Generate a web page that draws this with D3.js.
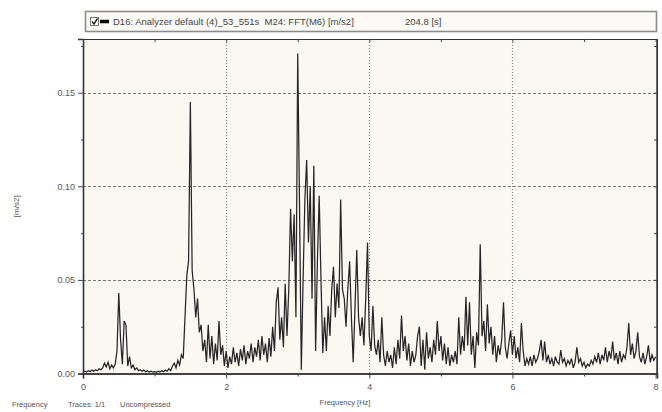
<!DOCTYPE html>
<html><head><meta charset="utf-8">
<script src="https://cdn.jsdelivr.net/npm/d3@7"></script>
<style>body{margin:0;background:#fff}svg{display:block}text{font-family:"Liberation Sans",Arial,sans-serif}</style>
</head><body>
<svg id="c" width="662" height="412"></svg>
<script>
// ---- data ----
const freqStep = 0.025; // Hz between samples
const amplitude = [
// 0.0 - 0.475
0.001,0.0012,0.0008,0.0015,0.001,0.0018,0.0012,0.002,0.0015,0.0025,0.002,0.003,0.0055,0.0035,0.006,0.0025,0.0045,0.003,0.005,0.012,
// 0.5 - 0.975
0.043,0.018,0.005,0.028,0.026,0.004,0.009,0.003,0.0045,0.002,0.003,0.0015,0.002,0.0012,0.0018,0.001,0.0015,0.0008,0.0012,0.0007,
// 1.0 - 1.475
0.001,0.0006,0.0012,0.0008,0.0015,0.001,0.0018,0.0012,0.0025,0.0015,0.004,0.0055,0.003,0.007,0.0045,0.01,0.008,0.03,0.052,0.06,
// 1.5 - 1.975
0.145,0.055,0.045,0.03,0.04,0.022,0.026,0.012,0.018,0.006,0.026,0.008,0.02,0.005,0.016,0.007,0.028,0.01,0.015,0.004,
// 2.0 - 2.475
0.012,0.003,0.009,0.005,0.014,0.006,0.011,0.004,0.013,0.007,0.015,0.005,0.012,0.008,0.016,0.006,0.014,0.009,0.018,0.007,
// 2.5 - 2.975
0.02,0.01,0.016,0.006,0.019,0.009,0.025,0.012,0.038,0.046,0.018,0.03,0.014,0.048,0.02,0.045,0.088,0.06,0.085,0.03,
// 3.0 - 3.475
0.171,0.09,0.002,0.05,0.093,0.114,0.07,0.1,0.04,0.111,0.012,0.06,0.095,0.05,0.011,0.03,0.012,0.036,0.02,0.045,
// 3.5 - 3.975
0.057,0.03,0.048,0.035,0.093,0.045,0.04,0.025,0.045,0.06,0.03,0.006,0.035,0.066,0.03,0.02,0.03,0.015,0.04,0.07,
// 4.0 - 4.475
0.02,0.012,0.036,0.015,0.01,0.018,0.006,0.03,0.01,0.004,0.012,0.006,0.01,0.003,0.014,0.005,0.018,0.008,0.031,0.012,
// 4.5 - 4.975
0.02,0.007,0.016,0.004,0.012,0.006,0.01,0.02,0.025,0.004,0.018,0.002,0.022,0.008,0.014,0.006,0.018,0.01,0.028,0.012,
// 5.0 - 5.475
0.02,0.007,0.016,0.005,0.014,0.004,0.01,0.006,0.012,0.005,0.03,0.01,0.02,0.012,0.041,0.015,0.038,0.01,0.02,0.003,
// 5.5 - 5.975
0.022,0.015,0.069,0.02,0.028,0.012,0.037,0.016,0.025,0.01,0.02,0.006,0.015,0.01,0.018,0.038,0.014,0.008,0.016,0.023,
// 6.0 - 6.475
0.01,0.02,0.008,0.014,0.006,0.027,0.012,0.004,0.008,0.005,0.009,0.004,0.01,0.006,0.008,0.012,0.018,0.007,0.017,0.006,
// 6.5 - 6.975
0.01,0.005,0.008,0.004,0.009,0.006,0.005,0.0125,0.006,0.008,0.004,0.007,0.005,0.008,0.003,0.006,0.014,0.006,0.008,0.004,
// 7.0 - 7.475
0.006,0.003,0.005,0.004,0.007,0.005,0.009,0.006,0.011,0.005,0.01,0.007,0.014,0.006,0.012,0.008,0.017,0.007,0.011,0.005,
// 7.5 - 7.975
0.012,0.006,0.01,0.008,0.014,0.027,0.01,0.016,0.008,0.012,0.022,0.009,0.006,0.011,0.005,0.009,0.015,0.006,0.01,0.007,
// 8.0
0.009
];
const xTicks = [0, 2, 4, 6, 8];
const xMinor = [1, 3, 5, 7];
const yTicks = [0, 0.05, 0.10, 0.15];
const yMinor = [0.025, 0.075, 0.125, 0.175];
const legendText = "D16: Analyzer default (4)_53_551s  M24: FFT(M6) [m/s2]";
const legendDur = "204.8 [s]";
const yLabel = "[m/s2]";
const xLabel = "Frequency [Hz]";
const footWords = ["Frequency", "Traces: 1/1", "Uncompressed"];

// ---- drawing ----
const svg = d3.select("#c");
const L = 83, R = 657, T = 39, B = 373.5;
const x = d3.scaleLinear().domain([0, 8.0196]).range([L, R]);
const y = d3.scaleLinear().domain([0, 0.1787]).range([B, T]);
const pts = amplitude.map((v, i) => [i * freqStep, v]);
const FONT = "Liberation Sans, Arial, sans-serif";

svg.append("rect").attr("x", L).attr("y", T).attr("width", R - L).attr("height", B - T)
  .attr("fill", "#fbf8f1");

// grid
svg.append("g").selectAll("line").data(yTicks.filter(d => d > 0)).join("line")
  .attr("x1", L).attr("x2", R).attr("y1", d => Math.round(y(d)) + 0.5).attr("y2", d => Math.round(y(d)) + 0.5)
  .attr("stroke", "#777").attr("stroke-width", 1.2).attr("stroke-dasharray", "3,2");
svg.append("g").selectAll("line").data(xTicks.filter(d => d > 0 && d < 8)).join("line")
  .attr("y1", T).attr("y2", B).attr("x1", d => Math.round(x(d)) + 0.5).attr("x2", d => Math.round(x(d)) + 0.5)
  .attr("stroke", "#888").attr("stroke-width", 1.1).attr("stroke-dasharray", "1,2");

// spectrum
svg.append("path").datum(pts)
  .attr("d", d3.line().x(d => x(d[0])).y(d => y(d[1])))
  .attr("fill", "none").attr("stroke", "#262626").attr("stroke-width", 1.25).attr("stroke-linejoin", "miter");

// frame
svg.append("rect").attr("x", L + 0.5).attr("y", T + 0.5).attr("width", R - L - 1).attr("height", B - T)
  .attr("fill", "none").attr("stroke", "#6a6a6a").attr("stroke-width", 1);

// axes
const yAxis = svg.append("g").attr("transform", `translate(${L},0)`)
  .call(d3.axisLeft(y).tickValues(yTicks).tickFormat(d3.format(".2f")).tickSize(5).tickPadding(3));
svg.append("g").attr("transform", `translate(${L},0)`)
  .call(d3.axisLeft(y).tickValues(yMinor.filter(d => d < 0.1787)).tickFormat("").tickSize(2));
const xAxis = svg.append("g").attr("transform", `translate(0,${B})`)
  .call(d3.axisBottom(x).tickValues(xTicks).tickFormat(d3.format("d")).tickSize(5).tickPadding(5));
svg.append("g").attr("transform", `translate(0,${B})`)
  .call(d3.axisBottom(x).tickValues(xMinor).tickFormat("").tickSize(3));
// inner ticks top & right
svg.append("g").attr("transform", `translate(0,${T})`)
  .call(d3.axisBottom(x).tickValues(xTicks.concat(xMinor)).tickFormat("").tickSize(3));
svg.append("g").attr("transform", `translate(${R},0)`)
  .call(d3.axisLeft(y).tickValues(yTicks.concat(yMinor.filter(d => d < 0.1787))).tickFormat("").tickSize(3));

svg.selectAll(".domain").attr("stroke", "#333");
svg.selectAll(".tick line").attr("stroke", "#444");
svg.selectAll(".tick text").attr("fill", "#555").style("font-size", "9px").style("font-family", FONT);
yAxis.select(".domain").attr("stroke-width", 1.6);
xAxis.select(".domain").attr("stroke-width", 1.6);

// labels
svg.append("text").attr("transform", `translate(19,${(T + B) / 2}) rotate(-90)`)
  .attr("text-anchor", "middle").attr("fill", "#555").style("font-size", "8px").text(yLabel);
svg.append("text").attr("x", 345).attr("y", 405).attr("text-anchor", "middle")
  .attr("fill", "#555").style("font-size", "7.5px").text(xLabel);
svg.append("g").selectAll("text").data(footWords).join("text")
  .attr("x", (d, i) => [12, 68, 120][i]).attr("y", 407).attr("fill", "#555")
  .style("font-size", "7.5px").text(d => d);

// legend box
const lg = svg.append("g");
lg.append("rect").attr("x", 85.5).attr("y", 11.5).attr("width", 571).attr("height", 20)
  .attr("fill", "#fbfaf6").attr("stroke", "#8c8c8c").attr("stroke-width", 1.6);
lg.append("rect").attr("x", 90.5).attr("y", 17.5).attr("width", 8).attr("height", 8)
  .attr("fill", "#fff").attr("stroke", "#777");
lg.append("path").attr("d", "M92,21.5 L94,24 L97.5,18.5").attr("fill", "none").attr("stroke", "#222").attr("stroke-width", 1.4);
lg.append("line").attr("x1", 100).attr("x2", 109).attr("y1", 21.5).attr("y2", 21.5)
  .attr("stroke", "#000").attr("stroke-width", 3.5);
lg.append("text").attr("x", 113).attr("y", 25).attr("fill", "#444").style("font-size", "9.5px")
  .attr("xml:space", "preserve").style("white-space", "pre").text(legendText);
lg.append("text").attr("x", 405).attr("y", 25).attr("fill", "#444").style("font-size", "9.5px").text(legendDur);
</script>
</body></html>
